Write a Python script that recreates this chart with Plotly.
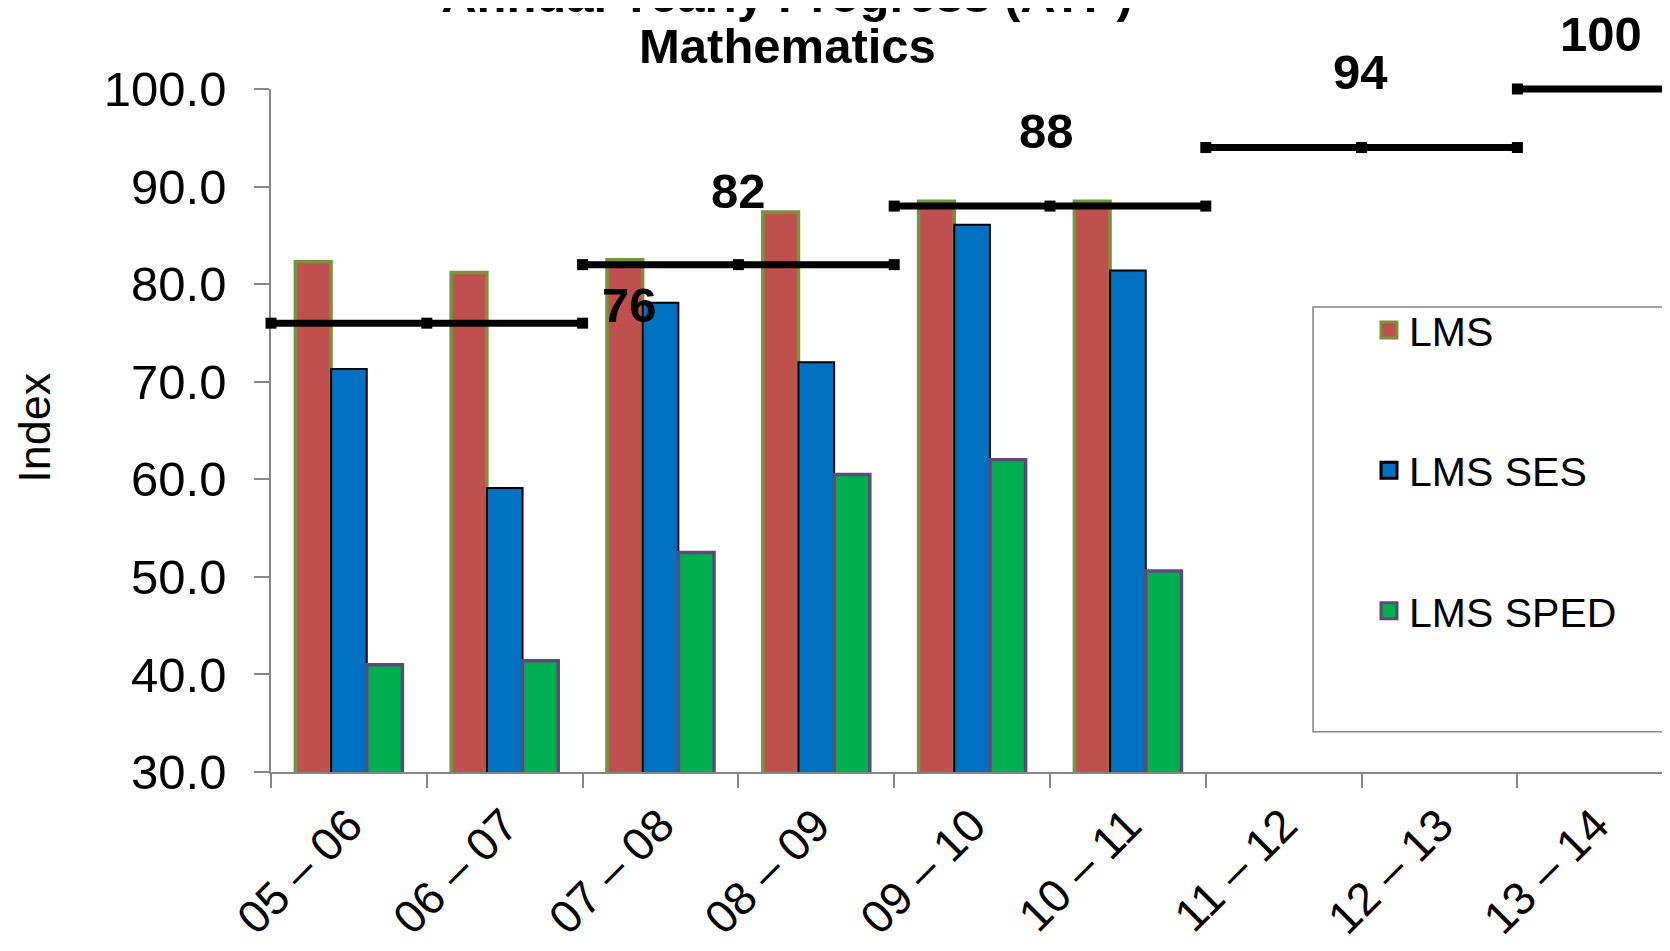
import plotly.graph_objects as go

# ---------------- data ----------------
categories = ["05 – 06", "06 – 07", "07 – 08", "08 – 09", "09 – 10",
              "10 – 11", "11 – 12", "12 – 13", "13 – 14"]
lms = [82.3, 81.2, 82.5, 87.4, 88.5, 88.5]
lms_ses = [71.3, 59.1, 78.1, 72.0, 86.1, 81.4]
lms_sped = [41.0, 41.4, 52.5, 60.5, 62.0, 50.6]

target_values = [76, 82, 88, 94, 100]
target_first = ["05 – 06", "07 – 08", "09 – 10", "11 – 12", "13 – 14"]
target_span = [2, 2, 2, 2, 1]

# label placement (pixels) for the target labels
label_dx = [203, 0, -4, -1, 6]
label_dy = [18, 74, 75, 76, 55]

FONT = "Arial, Liberation Sans, sans-serif"

# page offset (default body margin of the html page)
OFF = 8
W, H = 1670 - OFF, 951 - OFF

# geometry in window pixels
AX_LEFT = 271          # y-axis line
Y100 = 89              # pixel of y=100
Y30 = 772.3            # pixel of y=30
AREA_TOP = 79          # top of clip area (a bit above 100)
CAT_W = 155.8

L = AX_LEFT - OFF
T = AREA_TOP - OFF
B = H - (Y30 - OFF)
plot_w = W - L
plot_h = (Y30 - OFF) - T
x_right = -0.5 + plot_w / CAT_W
dom_top = (Y30 - Y100) / plot_h
y2_top = 30 + 70 / dom_top


def px_x(px):
    return (px - AX_LEFT) / plot_w


def px_y(py):
    return (Y30 - py) / plot_h


series = [
    ("LMS", lms, "#C0504D", "#77933C", 3.5, "a"),
    ("LMS SES", lms_ses, "#0070C0", "#000000", 2, "b"),
    ("LMS SPED", lms_sped, "#00B050", "#5F497A", 3.5, "c"),
]

fig = go.Figure()

for name, vals, fill, edge, lw, grp in series:
    fig.add_trace(go.Bar(
        x=list(range(len(vals))), y=vals, name=name, legendgroup=grp,
        showlegend=False,
        marker=dict(color=fill, line=dict(color=edge, width=lw)),
    ))

# legend entries (larger square swatches, linked to the bars by group)
for name, vals, fill, edge, lw, grp in series:
    fig.add_trace(go.Scatter(
        x=[None], y=[None], name=name, legendgroup=grp, mode="markers",
        marker=dict(symbol="square", size=16, color=fill,
                    line=dict(color=edge, width=3)),
        showlegend=True,
    ))

annotations = []
for val, first, span, dx, dy in zip(target_values, target_first, target_span, label_dx, label_dy):
    start = categories.index(first) - 0.5
    end = start + span
    if span > 1:
        xs = [start, start + span / 2, end]
    else:
        xs = [start, end]
    fig.add_trace(go.Scatter(
        x=xs, y=[val] * len(xs), mode="lines+markers", showlegend=False,
        xaxis="x", yaxis="y2",
        line=dict(color="black", width=7),
        marker=dict(symbol="square", size=11, color="black"),
        cliponaxis=False, hoverinfo="y",
    ))
    annotations.append(dict(
        x=start + span / 2, y=val, xref="x", yref="y2", text=f"<b>{val}</b>",
        showarrow=False, xshift=dx, yshift=dy,
        font=dict(family=FONT, size=49, color="black"),
        xanchor="center", yanchor="middle",
    ))

# y-axis title
annotations.append(dict(
    x=px_x(35), y=px_y(428), xref="paper", yref="paper", text="Index",
    textangle=-90, showarrow=False, xanchor="center", yanchor="middle",
    font=dict(family=FONT, size=45, color="black"),
))
# second title line
annotations.append(dict(
    x=px_x(787), y=px_y(45.5), xref="paper", yref="paper", text="<b>Mathematics</b>",
    showarrow=False, xanchor="center", yanchor="middle",
    font=dict(family=FONT, size=49, color="black"),
))

fig.update_layout(
    width=W, height=H,
    margin=dict(l=L, r=0, t=T, b=B, pad=0),
    paper_bgcolor="white", plot_bgcolor="rgba(0,0,0,0)",
    barmode="group", bargap=0.313, bargroupgap=0,
    font=dict(family=FONT, color="black"),
    title=dict(
        text="<b>Annual Yearly Progress (AYP)</b>",
        xref="container", x=(787 - OFF) / W, xanchor="center",
        yref="container", y=1 - 4 / H, yanchor="bottom",
        font=dict(family=FONT, size=49, color="black"),
    ),
    xaxis=dict(
        range=[-0.5, x_right], tickmode="array",
        tickvals=list(range(len(categories))), ticktext=categories,
        tickangle=-45, tickfont=dict(family=FONT, size=46, color="black"),
        ticks="", showgrid=False, zeroline=False,
        showline=True, linecolor="#868686", linewidth=1.5,
        minor=dict(ticks="outside", ticklen=14, tickcolor="#868686",
                   tickwidth=1.5, tick0=-0.5, dtick=1, showgrid=False),
        ticklabelstandoff=6,
        automargin=False, anchor="y",
    ),
    yaxis=dict(
        domain=[0, dom_top],
        range=[30, 100], dtick=10, tick0=30, tickformat=".1f",
        ticks="outside", ticklen=15, tickcolor="#868686", tickwidth=1.5,
        tickfont=dict(family=FONT, size=49, color="black"),
        showgrid=False, zeroline=False,
        showline=True, linecolor="#868686", linewidth=1.5,
        ticklabelstandoff=18, automargin=False,
    ),
    yaxis2=dict(
        domain=[0, 1], range=[30, y2_top], visible=False,
        showgrid=False, zeroline=False, anchor="x",
    ),
    legend=dict(
        x=px_x(1369), xanchor="left",
        y=px_y(297), yanchor="top",
        font=dict(family=FONT, size=41, color="black"),
        bgcolor="rgba(0,0,0,0)", borderwidth=0,
        traceorder="grouped", tracegroupgap=84,
        itemsizing="trace",
    ),
    shapes=[dict(
        type="rect", xref="paper", yref="paper",
        x0=px_x(1313), x1=1.05,
        y0=px_y(732), y1=px_y(307),
        line=dict(color="#868686", width=1.5), fillcolor="rgba(0,0,0,0)",
        layer="below",
    )],
    annotations=annotations,
    showlegend=True,
)

fig.write_html("out.html")
